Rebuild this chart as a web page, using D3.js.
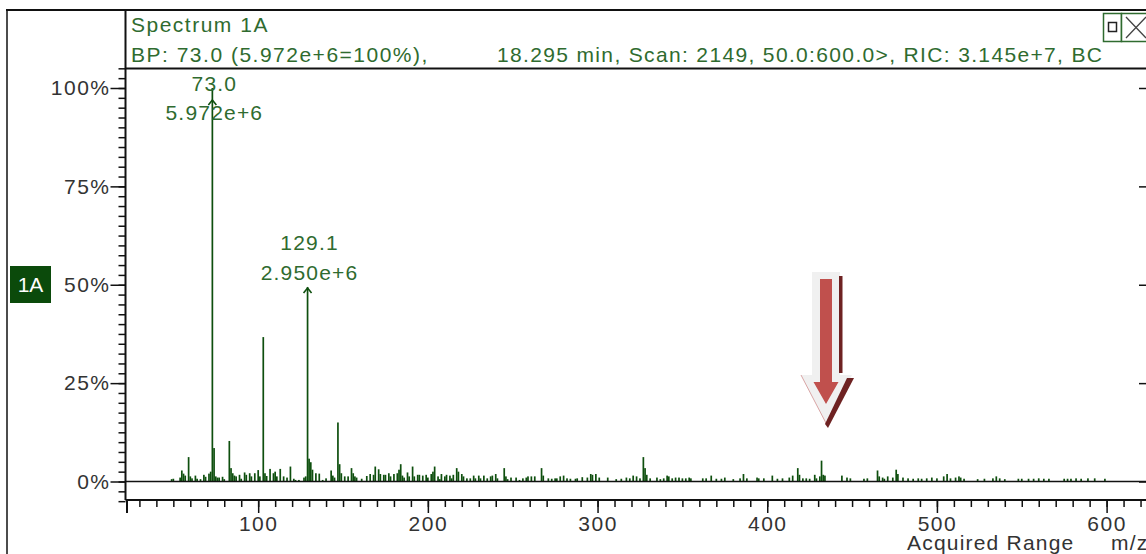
<!DOCTYPE html>
<html><head><meta charset="utf-8">
<script src="https://cdn.jsdelivr.net/npm/d3@7"></script>
<style>
body{margin:0;background:#fff;overflow:hidden;}
svg text{font-family:"Liberation Sans",Arial,sans-serif;}
</style></head><body>
<svg id="c" width="1146" height="554"></svg>
<script>
// ---------- data ----------
const titleLines = ["Spectrum 1A", "BP: 73.0 (5.972e+6=100%),"];
const infoLine = "18.295 min, Scan: 2149, 50.0:600.0>, RIC: 3.145e+7, BC";
const traceLabel = "1A";
const xAxisTitle = "Acquired Range";
const xUnit = "m/z";

const peakMz = [49,50,54,55,56,57,59,60,61,63,64,66,68,69,71,72,73,74,75,76,77,79,80,83,84,85,86,87,89,90,92,93,95,96,98,100,101,103,104,105,107,109,110,111,113,115,117,119,121,122,124,127,128,129.1,130,131,132,134,136,138,140,143,144,145,147,148,149,151,153,155,156,157,158,161,164,166,168,169,171,172,174,175,177,178,180,182,183,184,185,186,188,189,191,192,194,195,197,199,200,202,203,204,206,207,208,210,211,213,214,215,217,218,220,221,223,225,227,228,230,231,233,235,237,238,240,241,245,246,247,249,252,254,256,258,259,261,263,267,268,271,273,275,276,278,280,282,284,287,288,291,294,296,297,299,301,306,311,314,317,319,321,323,325,327,328,329,331,335,337,339,341,342,344,346,348,350,352,354,355,362,364,367,370,373,375,380,384,386,388,394,395,398,403,406,409,413,415,418,419,421,423,425,428,429,431,432,433,434,444,447,449,457,459,465,466,468,469,471,474,476,477,480,483,486,489,491,494,497,500,504,506,508,511,513,514,516,524,528,533,535,537,540,548,550,554,557,560,563,566,575,577,579,582,585,589,593,599];
const peakPct = [0.6,0.7,1.0,2.8,2.0,1.5,6.2,1.3,0.8,1.5,0.7,0.6,1.7,1.2,2.0,2.5,100,8.5,1.3,1.0,1.0,1.2,0.6,10.3,3.4,2.1,1.5,1.3,1.7,0.7,2.3,1.7,2.1,1.3,2.1,2.9,1.3,36.7,2.1,1.4,3.2,2.1,2.5,1.3,3.2,1.3,1.0,3.8,0.7,0.4,0.4,1.0,1.3,49.4,5.8,4.9,3.0,2.1,2.0,0.4,0.8,2.8,1.5,1.0,15.0,4.4,2.1,1.3,1.3,3.4,2.1,1.3,1.0,0.7,1.4,1.9,1.7,3.8,3.1,1.9,1.7,1.7,2.1,1.3,1.9,2.1,3.0,4.4,1.5,1.0,2.3,1.3,3.8,1.3,1.7,1.7,1.5,1.7,1.0,1.9,2.5,3.8,1.3,0.6,1.9,1.3,1.7,1.5,0.8,1.7,3.4,2.5,1.9,1.3,0.8,0.8,1.5,0.8,1.5,0.8,1.5,0.8,1.3,1.5,1.9,0.8,3.4,1.3,0.6,1.0,1.0,0.4,0.8,1.0,1.3,1.3,1.3,3.4,1.5,0.8,0.7,0.8,0.8,1.3,1.5,0.8,0.7,0.7,0.8,1.1,1.0,1.9,1.7,1.9,1.0,1.0,0.6,0.7,1.0,0.8,1.5,1.3,0.8,6.2,3.4,1.7,0.8,1.0,0.6,0.8,1.5,1.3,0.8,1.0,1.0,0.8,0.8,1.0,0.8,0.8,0.8,1.5,0.7,0.7,1.0,0.6,0.8,1.9,0.8,1.0,0.8,0.8,1.5,0.7,0.8,1.0,1.5,3.4,1.7,0.8,0.8,0.7,1.7,0.8,1.3,5.3,1.7,1.5,1.5,1.0,0.8,0.7,0.8,2.8,1.3,1.0,0.7,1.3,1.0,3.0,1.9,1.0,0.8,0.7,0.8,0.7,0.8,1.0,0.8,1.3,1.9,0.8,1.0,1.3,1.0,0.7,0.6,0.7,0.8,1.3,0.8,0.6,0.7,0.7,0.7,0.7,0.8,0.7,0.7,0.7,0.7,0.7,0.8,0.7,0.8,0.8,0.7];

const labelMz = [73.0, 129.1];
const labelPct = [100, 49.4];
const labelAbund = ["5.972e+6", "2.950e+6"];

const yTickValues = [0, 25, 50, 75, 100];
const yTickLabels = ["0%", "25%", "50%", "75%", "100%"];
const xTickValues = [100, 200, 300, 400, 500, 600];
const xTickLabels = ["100", "200", "300", "400", "500", "600"];

// ---------- drawing ----------
const W = 1146, H = 554;
const svg = d3.select("#c");
const green = "#2f6b2f", barGreen = "#0e4f0e", ink = "#333";
const FS = 21, LS = "1.5px";

const x = d3.scaleLinear().domain([0, 600]).range([88.5, 1106.6]);
const y = d3.scaleLinear().domain([0, 100]).range([481.5, 88]);
const axisX = 125.5, xAxisY = 500;

// frame
const frame = svg.append("g").attr("stroke", "#111").attr("fill", "none");
frame.append("line").attr("x1", 6).attr("x2", W).attr("y1", 10).attr("y2", 10).attr("stroke-width", 2);
frame.append("line").attr("x1", 7).attr("x2", 7).attr("y1", 10).attr("y2", H).attr("stroke-width", 1.5);
frame.append("line").attr("x1", axisX).attr("x2", axisX).attr("y1", 10).attr("y2", xAxisY).attr("stroke-width", 2);
frame.append("line").attr("x1", axisX).attr("x2", W).attr("y1", 68.5).attr("y2", 68.5).attr("stroke-width", 2);

// header text
svg.append("text").attr("x", 131).attr("y", 32).attr("fill", green)
  .attr("font-size", FS).attr("letter-spacing", LS).text(titleLines[0]);
svg.append("text").attr("x", 131).attr("y", 62).attr("fill", green)
  .attr("font-size", FS).attr("letter-spacing", LS).text(titleLines[1]);
svg.append("text").attr("x", 497).attr("y", 62).attr("fill", green)
  .attr("font-size", FS).attr("textLength", 605).attr("lengthAdjust", "spacing").text(infoLine);

// window icons
const ic = svg.append("g");
ic.append("rect").attr("x", 1103.5).attr("y", 13.5).attr("width", 18).attr("height", 28).attr("fill", "#fff").attr("stroke", green).attr("stroke-width", 1.5);
ic.append("rect").attr("x", 1108.5).attr("y", 22.5).attr("width", 8).attr("height", 9).attr("fill", "none").attr("stroke", "#222").attr("stroke-width", 1.5);
ic.append("rect").attr("x", 1121.5).attr("y", 13.5).attr("width", 30).attr("height", 28).attr("fill", "#fff").attr("stroke", green).attr("stroke-width", 1.5);
ic.append("path").attr("d", "M1126,17 L1146,38 M1146,17 L1126,38").attr("stroke", "#444").attr("stroke-width", 1.3);

// trace label box
svg.append("rect").attr("x", 10).attr("y", 266).attr("width", 41).attr("height", 37).attr("fill", "#0b4a0b");
svg.append("text").attr("x", 30.5).attr("y", 292).attr("text-anchor", "middle").attr("fill", "#fff")
  .attr("font-size", FS).text(traceLabel);

// y axis minor + major ticks
const minorY = d3.range(-2, 43).map(i => i * 2.5);
const gyMinor = svg.append("g").attr("transform", `translate(${axisX},0)`)
  .call(d3.axisLeft(y).tickValues(minorY).tickSize(7).tickFormat(""));
const gyMajor = svg.append("g").attr("transform", `translate(${axisX},0)`)
  .call(d3.axisLeft(y).tickValues(yTickValues).tickSize(15).tickPadding(0)
    .tickFormat((d, i) => yTickLabels[i]));
[gyMinor, gyMajor].forEach(g => {
  g.select(".domain").remove();
  g.selectAll("line").attr("stroke", "#111").attr("stroke-width", 1.5);
});
gyMajor.selectAll("text").attr("font-size", FS).attr("fill", ink).attr("font-family", "Liberation Sans, Arial, sans-serif").attr("letter-spacing", LS);

// right ticks
const gyRight = svg.append("g").attr("transform", `translate(1139,0)`)
  .call(d3.axisRight(y).tickValues(yTickValues).tickSize(7).tickFormat(""));
gyRight.select(".domain").remove();
gyRight.selectAll("line").attr("stroke", "#111").attr("stroke-width", 1.5);

// x axis
svg.append("line").attr("x1", axisX).attr("x2", W).attr("y1", xAxisY).attr("y2", xAxisY)
  .attr("stroke", "#111").attr("stroke-width", 2);
svg.append("line").attr("x1", 127).attr("x2", 127).attr("y1", xAxisY).attr("y2", 513)
  .attr("stroke", "#111").attr("stroke-width", 2);
const minorX = d3.range(3, 63).map(i => i * 10);
const gxMinor = svg.append("g").attr("transform", `translate(0,${xAxisY})`)
  .call(d3.axisBottom(x).tickValues(minorX).tickSize(7).tickFormat(""));
const gxMajor = svg.append("g").attr("transform", `translate(0,${xAxisY})`)
  .call(d3.axisBottom(x).tickValues(xTickValues).tickSize(13).tickPadding(3)
    .tickFormat((d, i) => xTickLabels[i]));
[gxMinor, gxMajor].forEach(g => {
  g.select(".domain").remove();
  g.selectAll("line").attr("stroke", "#111").attr("stroke-width", 1.5);
});
gxMajor.selectAll("text").attr("font-size", FS).attr("fill", ink).attr("font-family", "Liberation Sans, Arial, sans-serif").attr("letter-spacing", LS);

svg.append("text").attr("x", 907).attr("y", 550).attr("fill", ink).attr("font-size", FS).attr("letter-spacing", "1.2px").text(xAxisTitle);
svg.append("text").attr("x", 1111).attr("y", 550).attr("fill", ink).attr("font-size", FS).attr("letter-spacing", "1.2px").text(xUnit);

// spectrum bars
const bw = 1.7;
svg.append("g").selectAll("rect").data(peakMz).join("rect")
  .attr("x", d => x(d) - bw / 2)
  .attr("width", bw)
  .attr("y", (d, i) => y(peakPct[i]))
  .attr("height", (d, i) => y(0) - y(peakPct[i]))
  .attr("fill", barGreen);

// baseline (0%)
svg.append("line").attr("x1", axisX).attr("x2", W).attr("y1", y(0)).attr("y2", y(0))
  .attr("stroke", "#111").attr("stroke-width", 1.5);

// peak annotations
labelMz.forEach((m, i) => {
  const top = y(labelPct[i]);
  const l2 = Math.max(top - 7, 120);
  const l1 = Math.max(l2 - 30, 91);
  const cx = x(m) + 2;
  svg.append("text").attr("x", cx).attr("y", l1).attr("text-anchor", "middle").attr("fill", green)
    .attr("font-size", FS).attr("letter-spacing", "1.2px").text(m.toFixed(1));
  svg.append("text").attr("x", cx).attr("y", l2).attr("text-anchor", "middle").attr("fill", green)
    .attr("font-size", FS).attr("letter-spacing", "1.2px").text(labelAbund[i]);
  const ay = Math.max(top, 99) + 1;
  svg.append("path").attr("d", `M${x(m) - 4},${ay + 5} L${x(m)},${ay} L${x(m) + 4},${ay + 5}`)
    .attr("fill", "none").attr("stroke", barGreen).attr("stroke-width", 1.6);
});

// highlight arrow
const ar = svg.append("g");
ar.append("path").attr("d", "M812,272 L840,272 L840,375 L852,375 L827,425 L801,375 L812,375 Z")
  .attr("fill", "#f0f0f0");
ar.append("line").attr("x1", 801).attr("y1", 375).attr("x2", 827).attr("y2", 425)
  .attr("stroke", "#d9a5a5").attr("stroke-width", 1);
ar.append("rect").attr("x", 839).attr("y", 276).attr("width", 3.5).attr("height", 97).attr("fill", "#6e2222");
ar.append("path").attr("d", "M847,378 L854,378 L828,428 L825,424 Z").attr("fill", "#6e2222");
ar.append("path").attr("d", "M820,279 L832,279 L832,382 L838.5,382 L826,404 L813.5,382 L820,382 Z")
  .attr("fill", "#c0504d");
</script>
</body></html>
